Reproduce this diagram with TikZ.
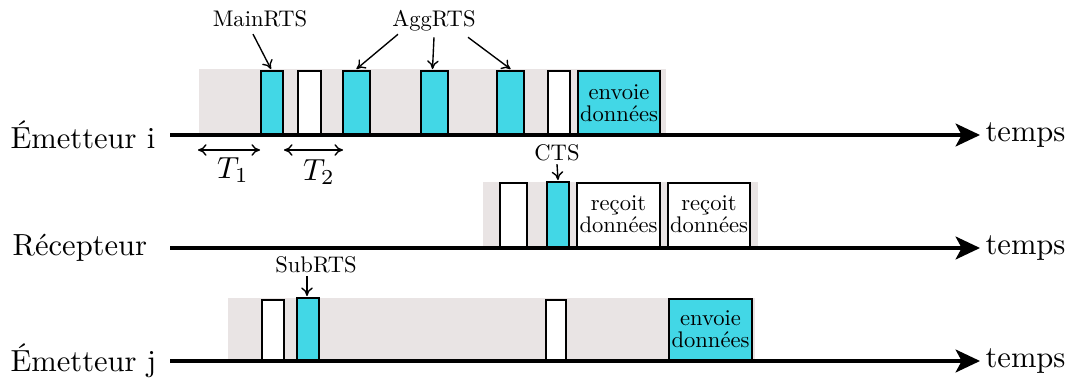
\documentclass[tikz,border=0pt]{standalone}
\usetikzlibrary{arrows.meta,calc,fit}
\usepackage{graphicx}
\definecolor{boxcyan}{RGB}{66,215,230}
\definecolor{bggray}{RGB}{233,228,228}
\newcommand\smalltxt[1]{\scalebox{0.74}{\renewcommand\arraystretch{0.76}\begin{tabular}{@{}c@{}}#1\end{tabular}}}
\begin{document}
\begin{tikzpicture}[x=0.3275pt,y=-0.3275pt,
  bg/.style={fill=bggray,draw=none,inner sep=0pt},
  cbox/.style={draw=black,fill=boxcyan,line width=0.65pt,inner sep=0pt},
  wbox/.style={cbox,fill=white},
  axis/.style={line width=1pt,-{Stealth[length=8pt,width=7.5pt,inset=2pt]}},
  lab/.style={inner sep=0pt},
  note/.style={line width=0.45pt,-{Computer Modern Rightarrow[length=2.8pt,width=3.8pt]}},
  dur/.style={line width=0.45pt,{Computer Modern Rightarrow[length=2.8pt,width=3.8pt]}-{Computer Modern Rightarrow[length=2.8pt,width=3.8pt]}},
  rowlab/.style={inner sep=0pt,anchor=west},
  timelab/.style={inner sep=0pt,anchor=west}]
\useasboundingbox (0,0) rectangle (1069,381);

% backgrounds
\node[bg,fit={(199,69)(666,135)}] (bg1) {};
\node[bg,fit={(483,182)(758,248)}] (bg2) {};
\node[bg,fit={(228,298)(755,361)}] (bg3) {};

% row 1: Emetteur i
\node[cbox,fit={(261,71)(283,135)}] (mrts) {};
\node[wbox,fit={(298,71)(321,135)}] (w11) {};
\node[cbox,fit={(343,71)(370,135)}] (ag1) {};
\node[cbox,fit={(421,71)(448,135)}] (ag2) {};
\node[cbox,fit={(497,71)(524,135)}] (ag3) {};
\node[wbox,fit={(548,71)(570,135)}] (w12) {};
\node[cbox,fit={(578,71)(660,135)}] (env1) {};
\node[lab] (env1t) at ($(env1.center)+(0,3)$) {\smalltxt{envoie\\données}};

% row 2: Recepteur
\node[wbox,fit={(500,183)(527,248)}] (w21) {};
\node[cbox,fit={(547,182)(569,248)}] (cts) {};
\node[wbox,fit={(577,183)(660,248)}] (rec1) {};
\node[wbox,fit={(668,183)(750,248)}] (rec2) {};
\node[lab] (rec1t) at ($(rec1.center)+(0,2)$) {\smalltxt{reçoit\\données}};
\node[lab] (rec2t) at ($(rec2.center)+(0,2)$) {\smalltxt{reçoit\\données}};

% row 3: Emetteur j
\node[wbox,fit={(262,300)(284,361)}] (w31) {};
\node[cbox,fit={(297,298)(319,361)}] (srts) {};
\node[wbox,fit={(546,300)(566,361)}] (w32) {};
\node[cbox,fit={(669,299)(752,361)}] (env3) {};
\node[lab] (env3t) at ($(env3.center)+(0,2)$) {\smalltxt{envoie\\données}};

% axes
\coordinate (a1s) at (170,135); \coordinate (a1e) at (980,135);
\coordinate (a2s) at (170,248); \coordinate (a2e) at (980,248);
\coordinate (a3s) at (170,361); \coordinate (a3e) at (980,361);
\draw[axis] (a1s) -- (a1e);
\draw[axis] (a2s) -- (a2e);
\draw[axis] (a3s) -- (a3e);

\node[rowlab] (em1) at (10,135) {Émetteur i};
\node[rowlab] (rcp) at (12,248) {Récepteur};
\node[rowlab] (em2) at (10,361) {Émetteur j};
\node[timelab] (tp1) at (985,135) {temps};
\node[timelab] (tp2) at (985,248) {temps};
\node[timelab] (tp3) at (985,361) {temps};

% labels
\node[lab,anchor=base] (mainrts) at (260,27) {\scalebox{0.74}{MainRTS}};
\node[lab,anchor=base] (aggrts) at (434,27) {\scalebox{0.74}{AggRTS}};
\node[lab,anchor=base] (ctsl) at (557,161) {\scalebox{0.74}{CTS}};
\node[lab,anchor=base] (subrts) at (316,273) {\scalebox{0.74}{SubRTS}};

\draw[note] ($(mainrts.south)+(-7,6)$) -- ($(mrts.north)+(-1,-1)$);
\draw[note] ($(aggrts.south)+(-36,2)$) -- ($(ag1.north)+(0,-1)$);
\draw[note] ($(aggrts.south)+(0,5)$) -- ($(ag2.north)+(-2,-1)$);
\draw[note] ($(aggrts.south)+(34,5)$) -- ($(ag3.north)+(0,-1)$);
\draw[note] ($(ctsl.south)+(0,2)$) -- ($(cts.north)+(0,-1)$);
\draw[note] ($(subrts.south)+(-9,2)$) -- ($(srts.north)+(-1,-1)$);

% durations
\coordinate (t1a) at (198,150); \coordinate (t1b) at (260,150);
\coordinate (t2a) at (284,150); \coordinate (t2b) at (343,150);
\draw[dur] (t1a) -- (t1b);
\draw[dur] (t2a) -- (t2b);
\node[inner sep=0pt] (T1) at (233,170) {$T_1$};
\node[inner sep=0pt] (T2) at (319,172) {$T_2$};
\end{tikzpicture}
\end{document}
